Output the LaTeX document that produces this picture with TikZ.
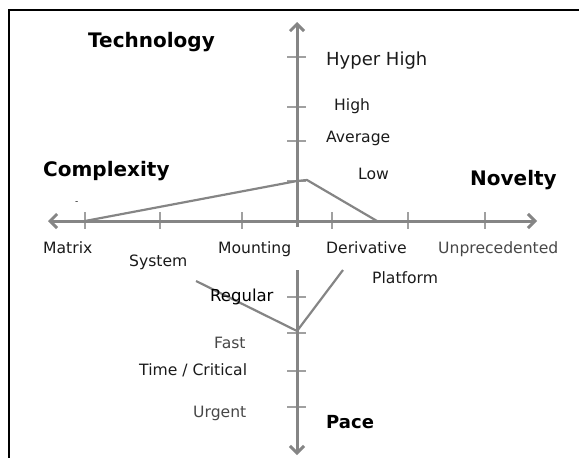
\documentclass[tikz,border=0pt]{standalone}
\usepackage{fontspec}
\setmainfont{DejaVu Sans}
\usetikzlibrary{arrows.meta}
\definecolor{axisgray}{HTML}{858585}
\definecolor{tickgray}{HTML}{A0A0A0}
\definecolor{txt}{HTML}{1A1A1A}
\definecolor{txtgray}{HTML}{474747}
\begin{document}
\begin{tikzpicture}[x=1pt,y=-1pt,
  axis/.style={draw=axisgray,line width=3pt},
  tipstyle/.style={-{Straight Barb[length=7pt,width=14pt]}},
  tickline/.style={draw=tickgray,line width=1.3pt},
  dataline/.style={draw=axisgray,line width=2.2pt},
  lbl/.style={inner sep=0pt,anchor=base west,text=txt,font=\fontsize{15.6}{18}\selectfont},
  glbl/.style={lbl,text=txtgray},
  title/.style={inner sep=0pt,anchor=base west,text=black,font=\fontsize{20}{24}\selectfont\bfseries}]
\useasboundingbox (0,0) rectangle (579,458);
% frame
\draw[black,line width=2pt] (9,460) -- (9,10) -- (580,10);
% axes coordinates
\coordinate (hl) at (48,221);
\coordinate (hr) at (537,221);
\coordinate (vtop) at (297,22);
\coordinate (vmid) at (297,227);
\coordinate (vlow) at (297,270);
\coordinate (vbot) at (297,455);
% ticks
\foreach \x in {85,160,242,332,408,485} \draw[tickline] (\x,212) -- (\x,229);
\foreach \y in {57,107,141,181,297,333,371,407} \draw[tickline] (287,\y) -- (306,\y);
% axes
\draw[axis,{Straight Barb[length=7pt,width=14pt]}-{Straight Barb[length=7pt,width=14pt]}] (hl) -- (hr);
\draw[axis,tipstyle] (vmid) -- (vtop);
\draw[axis,tipstyle] (vlow) -- (vbot);
% data lines
\coordinate (cm) at (85,221);
\coordinate (ct) at (297,181);
\coordinate (cp) at (307,180);
\coordinate (cd) at (377,221);
\draw[dataline,line join=round] (cm) -- (ct) -- (cp) -- (cd);
\coordinate (ps) at (196,281);
\coordinate (pf) at (297,331);
\coordinate (pp) at (343,270);
\draw[dataline,line join=round] (ps) -- (pf) -- (pp);
% titles
\node[title] (tech) at (88,47) {Technology};
\node[title] (comp) at (43,176) {Complexity};
\node[title] (nov) at (470,185) {Novelty};
\node[title,font=\fontsize{18}{22}\selectfont\bfseries] (pace) at (326,428) {Pace};
% technology levels
\node[lbl,font=\fontsize{18}{22}\selectfont] (hh) at (326,65) {Hyper High};
\node[lbl] (high) at (334,110) {High};
\node[lbl] (avg) at (326,142) {Average};
\node[lbl] (low) at (358,179) {Low};
% complexity / novelty levels
\node[lbl] (mat) at (43,253) {Matrix};
\node[lbl] (sys) at (129,266) {System};
\node[lbl] (mou) at (218,253) {Mounting};
\node[lbl] (der) at (326,253) {Derivative};
\node[glbl] (unp) at (438,253) {Unprecedented};
\node[lbl] (pla) at (372,283) {Platform};
% pace levels
\node[lbl,text=black,font=\fontsize{16.5}{20}\selectfont] (reg) at (210,301) {Regular};
\node[glbl] (fast) at (214,348) {Fast};
\node[lbl] (tc) at (139,375) {Time / Critical};
\node[glbl] (urg) at (193,417) {Urgent};
\node[lbl,font=\fontsize{9}{10}\selectfont] (dash) at (75,204) {-};
\end{tikzpicture}
\end{document}
